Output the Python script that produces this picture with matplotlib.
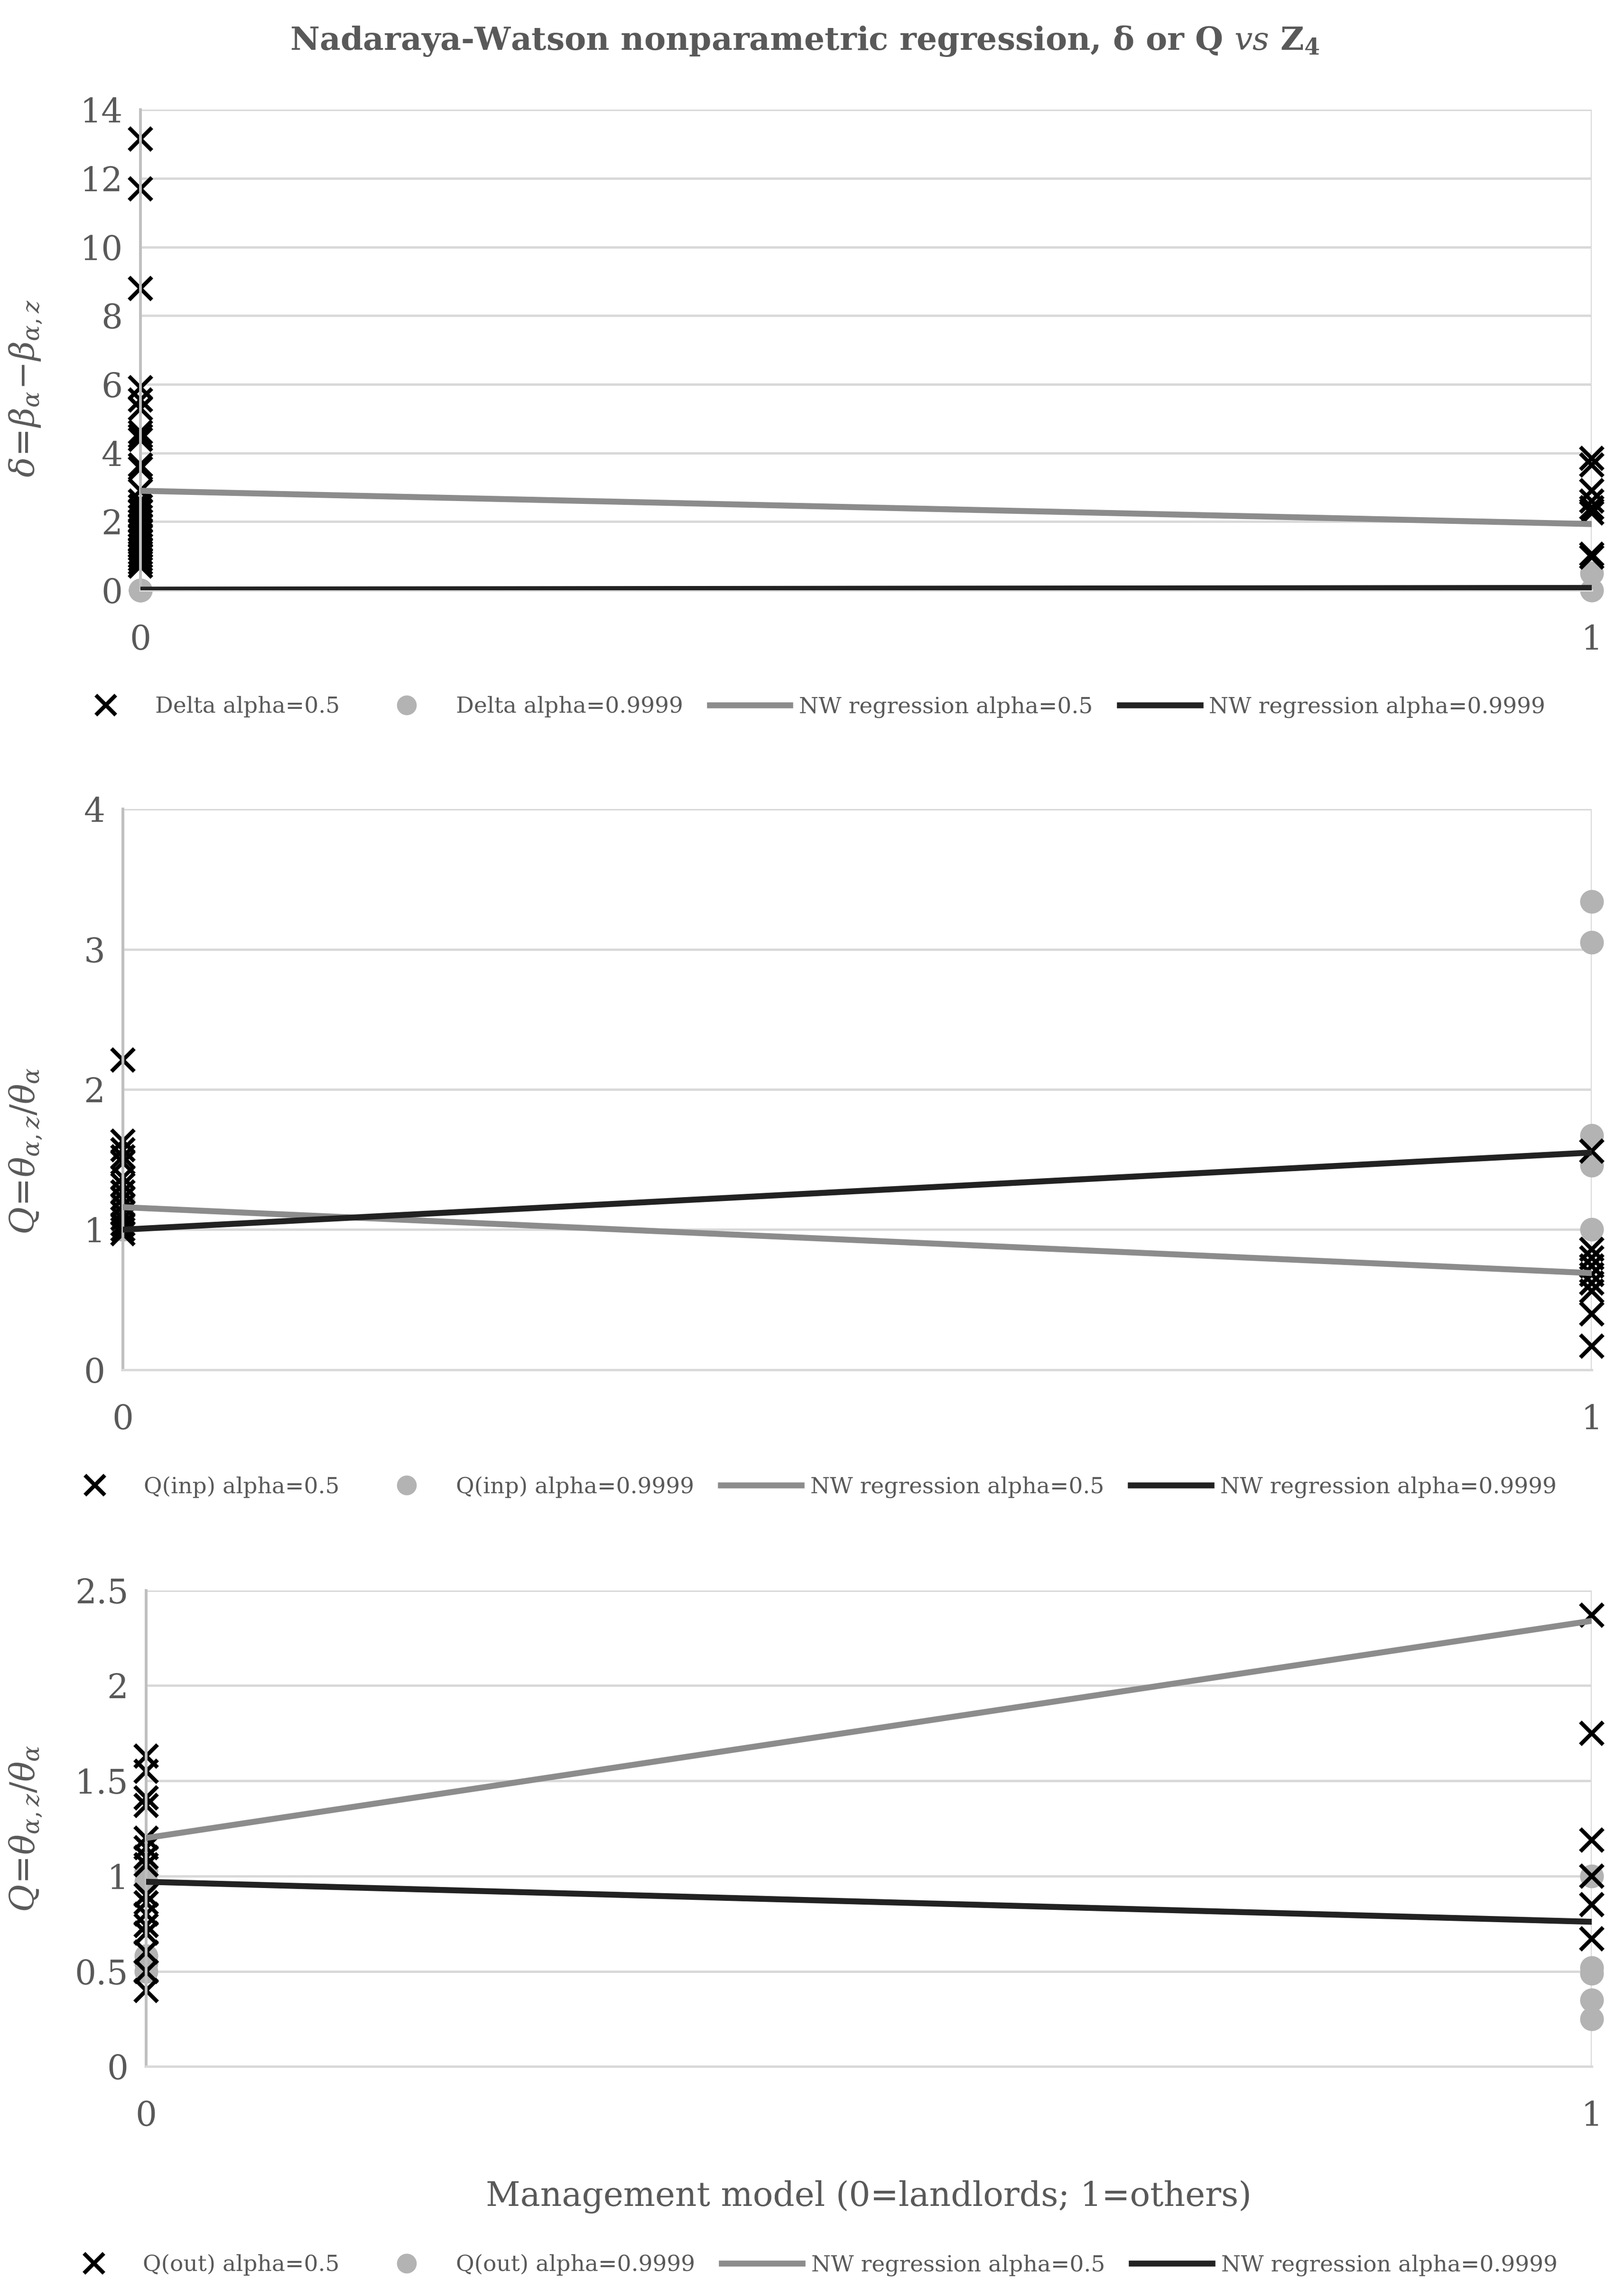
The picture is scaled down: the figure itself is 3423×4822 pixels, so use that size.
import matplotlib
matplotlib.use("Agg")
import matplotlib.pyplot as plt
from matplotlib.lines import Line2D
from matplotlib.ticker import FuncFormatter

plt.rcParams['font.family'] = ['DejaVu Serif']
plt.rcParams['mathtext.fontset'] = 'dejavuserif'

TXT = '#595959'
GRID = '#D9D9D9'
AXIS = '#BFBFBF'
C_X = 'black'
C_O = '#B3B3B3'
C_NW05 = '#8C8C8C'
C_NW99 = '#222222'

# ---- data ----
nw_x = [0, 1]

# panel 1: delta
d05_x0 = [13.15, 11.7, 8.8, 5.9, 5.55, 5.3, 4.6, 4.5, 4.4, 3.65, 3.55, 2.9, 2.6,
          2.45, 2.3, 2.15, 2.0, 1.9, 1.75, 1.6, 1.45, 1.3, 1.2, 1.1, 1.0, 0.9, 0.8, 0.7]
d05_x1 = [3.85, 3.65, 2.9, 2.6, 2.4, 2.25, 1.05, 0.97]
d99_x0 = [0.0, 0.0, 0.0]
d99_x1 = [0.5, 0.0]
d_nw05 = [2.9, 1.93]
d_nw99 = [0.02, 0.07]

# panel 2: Q(inp)
qi05_x0 = [2.21, 1.63, 1.57, 1.52, 1.48, 1.37, 1.32, 1.27, 1.22, 1.17, 1.12,
           1.08, 1.04, 1.0, 0.97]
qi05_x1 = [1.56, 0.86, 0.8, 0.74, 0.68, 0.62, 0.56, 0.4, 0.17]
qi99_x0 = [1.22, 1.0, 1.0]
qi99_x1 = [3.34, 3.05, 1.67, 1.46, 1.0]
qi_nw05 = [1.16, 0.69]
qi_nw99 = [1.0, 1.55]

# panel 3: Q(out)
qo05_x0 = [1.63, 1.55, 1.41, 1.37, 1.2, 1.15, 1.1, 1.06, 0.9, 0.86, 0.8, 0.74,
           0.7, 0.6, 0.5, 0.4]
qo05_x1 = [2.37, 1.75, 1.19, 1.0, 0.85, 0.67]
qo99_x0 = [1.03, 0.97, 0.58, 0.54, 0.5]
qo99_x1 = [1.0, 0.52, 0.49, 0.35, 0.25]
qo_nw05 = [1.2, 2.34]
qo_nw99 = [0.97, 0.76]

panels = [
    dict(rect=[0.0865, 0.742, 0.8935, 0.210], ymax=14, ystep=2,
         x05=d05_x0, x15=d05_x1, x09=d99_x0, x19=d99_x1, nw05=d_nw05, nw99=d_nw99,
         ylabel=r'$\delta\!=\!\beta_{\alpha}\!-\!\beta_{\alpha,z}$', lab=(-0.0667, 0.42),
         names=['Delta alpha=0.5', 'Delta alpha=0.9999'], leg_y=0.691),
    dict(rect=[0.0757, 0.4013, 0.9045, 0.2451], ymax=4, ystep=1,
         x05=qi05_x0, x15=qi05_x1, x09=qi99_x0, x19=qi99_x1, nw05=qi_nw05, nw99=qi_nw99,
         ylabel=r'$Q\!=\!\theta_{\alpha,z}/\theta_{\alpha}$', lab=(-0.054, 0.39),
         names=['Q(inp) alpha=0.5', 'Q(inp) alpha=0.9999'], leg_y=0.350),
    dict(rect=[0.090, 0.0968, 0.890, 0.2081], ymax=2.5, ystep=0.5,
         x05=qo05_x0, x15=qo05_x1, x09=qo99_x0, x19=qo99_x1, nw05=qo_nw05, nw99=qo_nw99,
         ylabel=r'$Q\!=\!\theta_{\alpha,z}/\theta_{\alpha}$', lab=(-0.071, 0.50),
         names=['Q(out) alpha=0.5', 'Q(out) alpha=0.9999'], leg_y=0.010),
]

fig = plt.figure(figsize=(3423 / 300, 4822 / 300), dpi=300)

for i, p in enumerate(panels):
    ax = fig.add_axes(p['rect'])
    ax.plot(nw_x, p['nw05'], color=C_NW05, lw=3.0, solid_capstyle='round', zorder=3)
    ax.plot(nw_x, p['nw99'], color=C_NW99, lw=3.0, solid_capstyle='round', zorder=3)
    ax.plot([0] * len(p['x09']), p['x09'], 'o', color=C_O, ms=12, mec='none', clip_on=False, zorder=2)
    ax.plot([1] * len(p['x19']), p['x19'], 'o', color=C_O, ms=12, mec='none', clip_on=False, zorder=2)
    ax.plot([0] * len(p['x05']), p['x05'], 'x', color=C_X, ms=11.5, mew=2.0, clip_on=False, zorder=2.5)
    ax.plot([1] * len(p['x15']), p['x15'], 'x', color=C_X, ms=11.5, mew=2.0, clip_on=False, zorder=2.5)

    ax.set_xlim(0, 1)
    ax.set_ylim(0, p['ymax'])
    ax.set_xticks([0, 1])
    n = int(round(p['ymax'] / p['ystep']))
    ax.set_yticks([k * p['ystep'] for k in range(n + 1)])
    ax.yaxis.set_major_formatter(FuncFormatter(lambda v, pos: '%g' % v))
    ax.grid(True, color=GRID, lw=1.2, zorder=0)
    ax.set_axisbelow(True)
    for s in ['top', 'right']:
        ax.spines[s].set_visible(False)
    ax.spines['left'].set_color(AXIS)
    ax.spines['left'].set_linewidth(1.4)
    ax.spines['bottom'].set_color(GRID)
    ax.spines['bottom'].set_linewidth(1.2)
    ax.tick_params(axis='both', length=0, labelsize=17, labelcolor=TXT)
    ax.tick_params(axis='x', pad=17)
    ax.tick_params(axis='y', pad=9)
    ax.set_ylabel(p['ylabel'], fontsize=17, color=TXT)
    ax.yaxis.set_label_coords(*p['lab'])
    if i == 2:
        ax.set_xlabel('Management model (0=landlords; 1=others)', fontsize=17,
                      color=TXT, labelpad=24)

    handles = [
        Line2D([], [], ls='none', marker='x', color=C_X, ms=10, mew=2.0),
        Line2D([], [], ls='none', marker='o', color=C_O, ms=10, mec='none'),
        Line2D([], [], color=C_NW05, lw=3.0),
        Line2D([], [], color=C_NW99, lw=3.0),
    ]
    labels = p['names'] + ['NW regression alpha=0.5', 'NW regression alpha=0.9999']
    leg = fig.legend(handles, labels, loc='center', bbox_to_anchor=(0.496, p['leg_y']),
                     ncol=4, frameon=False, fontsize=11.3, handlelength=3.6,
                     columnspacing=1.2, handletextpad=0.4)
    for t in leg.get_texts():
        t.set_color(TXT)

fig.text(0.4955, 0.982,
         r'Nadaraya-Watson nonparametric regression, δ or Q $\mathit{vs}$ Z$_{\mathbf{4}}$',
         ha='center', va='center', fontsize=16.3, fontweight='bold', color=TXT)

fig.savefig('out.png', dpi=300)
